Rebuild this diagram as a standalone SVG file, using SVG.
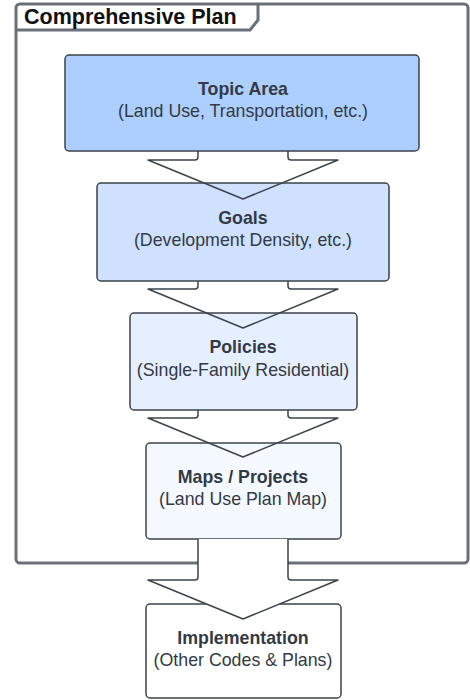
<svg xmlns="http://www.w3.org/2000/svg" width="470" height="700" viewBox="0 0 470 700">
<style>
.box{stroke:#3d434b;stroke-width:1.5}
.t{font-family:"Liberation Sans",Arial,sans-serif;font-size:17.8px;fill:#333a45;text-anchor:middle}
.b{font-weight:bold}
.arr{fill:none;stroke:#3d434b;stroke-width:1.5;stroke-linejoin:round}
</style>
<rect width="470" height="700" fill="#ffffff"/>
<g id="frame">
<rect x="16" y="4" width="452" height="559" rx="4" fill="#ffffff" stroke="#6b7078" stroke-width="3"/>
<path d="M16,30 L250,30 L258,20 L258,4" fill="none" stroke="#6b7078" stroke-width="3"/>
<text x="24" y="24" style="font-family:'Liberation Sans',Arial,sans-serif;font-size:21.5px;font-weight:bold;fill:#111111">Comprehensive Plan</text>
</g>
<g id="topic">
<rect class="box" x="65" y="55" width="354" height="96" rx="4" fill="#adcfff"/>
<text class="t b" x="243" y="95">Topic Area</text>
<text class="t" x="243" y="117">(Land Use, Transportation, etc.)</text>
</g>
<g id="goals">
<rect class="box" x="97" y="183" width="292" height="98" rx="4" fill="#cfe1ff"/>
<text class="t b" x="243" y="224">Goals</text>
<text class="t" x="243" y="246">(Development Density, etc.)</text>
</g>
<g id="policies">
<rect class="box" x="130" y="313" width="227" height="97" rx="4" fill="#e6efff"/>
<text class="t b" x="243" y="353">Policies</text>
<text class="t" x="243" y="376">(Single-Family Residential)</text>
</g>
<g id="maps">
<rect class="box" x="146" y="443" width="195" height="96" rx="4" fill="#f4f8ff"/>
<text class="t b" x="243" y="483">Maps / Projects</text>
<text class="t" x="243" y="505">(Land Use Plan Map)</text>
</g>
<g id="implementation">
<rect class="box" x="146" y="604" width="195" height="94" rx="4" fill="#ffffff"/>
<text class="t b" x="243" y="644">Implementation</text>
<text class="t" x="243" y="666">(Other Codes &amp; Plans)</text>
</g>
<g id="connectors">
<path class="arr" d="M198,151 L198,157 Q198,160 195,160 L148,160 L243,199 L338,160 L291,160 Q288,160 288,157 L288,151"/>
<path class="arr" d="M198,281 L198,286 Q198,289 195,289 L148,289 L243,328 L338,289 L291,289 Q288,289 288,286 L288,281"/>
<path class="arr" d="M198,410 L198,415 Q198,418 195,418 L148,418 L243,457 L338,418 L291,418 Q288,418 288,415 L288,410"/>
<path class="arr" style="fill:#ffffff" d="M198,539 L198,577 Q198,580 195,580 L148,580 L243,619 L338,580 L291,580 Q288,580 288,577 L288,539"/>
</g>
</svg>
